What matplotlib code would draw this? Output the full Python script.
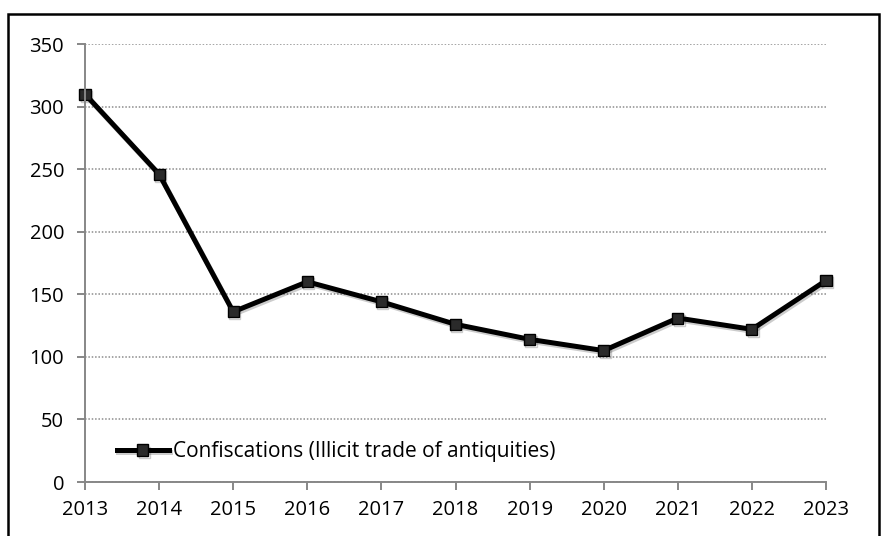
import matplotlib.pyplot as plt
import matplotlib.patheffects as pe
from matplotlib.patches import Rectangle

# Data
years = [2013, 2014, 2015, 2016, 2017, 2018, 2019, 2020, 2021, 2022, 2023]
confiscations = [310, 246, 136, 160, 144, 126, 114, 105, 131, 122, 161]
series_label = "Confiscations (Illicit trade of antiquities)"
y_ticks = [0, 50, 100, 150, 200, 250, 300, 350]

plt.rcParams['font.family'] = ['Open Sans', 'DejaVu Sans']

W, H = 881, 536
fig = plt.figure(figsize=(W / 100, H / 100), dpi=100)
ax = fig.add_axes([85 / W, (H - 482) / H, (826 - 85) / W, (482 - 44) / H])

# outer frame of the chart (runs past the bottom edge)
fig.patches.append(Rectangle((8 / W, -0.02), (879 - 8) / W, (H - 14) / H + 0.02,
                             transform=fig.transFigure, fill=False,
                             edgecolor='black', linewidth=1.8, clip_on=False))

ax.plot(years, confiscations, color='black', linewidth=3.6,
        marker='s', markersize=8, markerfacecolor='#2a2a2a',
        markeredgecolor='black', markeredgewidth=1,
        label=series_label, clip_on=False,
        path_effects=[pe.SimpleLineShadow(offset=(1, -1.5), alpha=0.2), pe.Normal()])

ax.set_xlim(years[0], years[-1])
ax.set_ylim(0, 350)
ax.set_xticks(years)
ax.set_yticks(y_ticks)

ax.grid(axis='y', color='#8c8c8c', linestyle=(0, (1, 1.2)), linewidth=1.1)
ax.set_axisbelow(True)

for side in ['top', 'right']:
    ax.spines[side].set_visible(False)
for side in ['left', 'bottom']:
    ax.spines[side].set_color('#878787')
    ax.spines[side].set_linewidth(1.4)

ax.tick_params(axis='both', direction='out', length=6, width=1.4, color='#878787',
               labelsize=14.5, labelcolor='black')
ax.tick_params(axis='y', pad=9)
ax.tick_params(axis='x', pad=7)

ax.legend(loc='lower left', bbox_to_anchor=(0.043, 0.045), frameon=False,
          fontsize=15, handlelength=2.5, handletextpad=0.2, borderaxespad=0,
          borderpad=0)

fig.savefig("out.png", dpi=100)
